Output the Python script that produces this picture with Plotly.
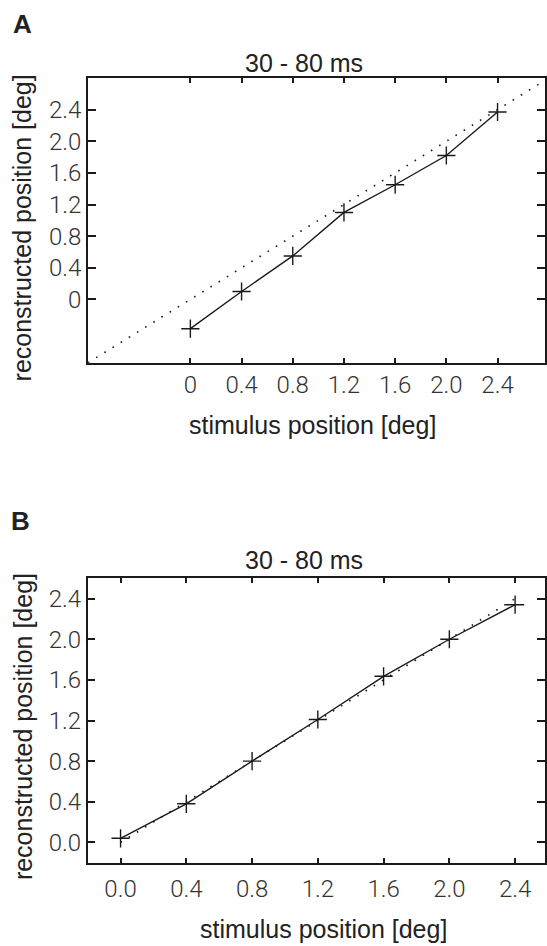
import plotly.graph_objects as go

# Stimulus positions (deg) and reconstructed positions (deg), 30-80 ms window
stim_a = [0.0, 0.4, 0.8, 1.2, 1.6, 2.0, 2.4]
recon_a = [-0.37, 0.10, 0.55, 1.10, 1.45, 1.82, 2.37]

stim_b = [0.0, 0.4, 0.8, 1.2, 1.6, 2.0, 2.4]
recon_b = [0.04, 0.38, 0.80, 1.21, 1.635, 2.00, 2.34]

# identity (veridical) reference lines
diag_a = [-0.8, 2.8]
diag_b = [0.0, 2.4]

tick_vals = [0.0, 0.4, 0.8, 1.2, 1.6, 2.0, 2.4]
tick_text_a = ["0", "0.4", "0.8", "1.2", "1.6", "2.0", "2.4"]
tick_text_b = ["0.0", "0.4", "0.8", "1.2", "1.6", "2.0", "2.4"]

W, H = 547, 946
INK = "#1a1a1a"
TXT = "#222222"
MAIN_FONT = "Liberation Sans, Arial, sans-serif"
TICK_FONT = dict(family="Roboto, Liberation Sans, sans-serif", size=24, color="#333333", weight=300)


def px_x(p):
    return p / W


def px_y(p):
    return 1 - p / H


fig = go.Figure()

for stim, recon, diag, xa, ya in [
    (stim_a, recon_a, diag_a, "x", "y"),
    (stim_b, recon_b, diag_b, "x2", "y2"),
]:
    fig.add_trace(go.Scatter(
        x=diag, y=diag, mode="lines", xaxis=xa, yaxis=ya,
        line=dict(color=INK, width=1.6, dash="1.6px,8px"),
        hoverinfo="skip", showlegend=False,
    ))
    fig.add_trace(go.Scatter(
        x=stim, y=recon, mode="lines+markers", xaxis=xa, yaxis=ya,
        line=dict(color=INK, width=1.4),
        marker=dict(symbol="cross-thin", size=13, color=INK,
                    line=dict(color=INK, width=1.4)),
        showlegend=False,
    ))

axis_common = dict(
    showline=True, linecolor=INK, linewidth=1.5, mirror="ticks",
    ticks="inside", tickcolor=INK, tickwidth=1.5,
    showgrid=False, zeroline=False, tickfont=TICK_FONT,
    tickmode="array", tickvals=tick_vals,
)

# panel A geometry (pixels)
a_left, a_top, a_bottom = 88.3, 78.0, 362.7
# panel B geometry (pixels)
b_left, b_top, b_bottom = 88.0, 578.3, 862.7

fig.update_layout(
    width=W, height=H,
    margin=dict(l=0, r=0, t=0, b=0),
    paper_bgcolor="white", plot_bgcolor="white",
    xaxis=dict(axis_common, domain=[px_x(a_left), 1], anchor="y",
               range=[-0.8, -0.8 + (W - a_left) / 128.46],
               ticktext=tick_text_a, ticklen=5, ticklabelstandoff=0),
    yaxis=dict(axis_common, domain=[px_y(a_bottom), px_y(a_top)], anchor="x",
               range=[-0.8, 2.8], ticktext=tick_text_a, ticklen=8,
               ticklabelstandoff=0),
    xaxis2=dict(axis_common, domain=[px_x(b_left), 1], anchor="y2",
                range=[-0.2, -0.2 + (W - b_left) / 165.0],
                ticktext=tick_text_b, ticklen=5, ticklabelstandoff=4),
    yaxis2=dict(axis_common, domain=[px_y(b_bottom), px_y(b_top)], anchor="x2",
                range=[-0.2, 2.6], ticktext=tick_text_b, ticklen=8,
                ticklabelstandoff=0),
)

ann = []


def label(text, x, y, size=25, bold=False, angle=0):
    ann.append(dict(
        text=f"<b>{text}</b>" if bold else text,
        x=px_x(x), y=px_y(y), xref="paper", yref="paper",
        xanchor="center", yanchor="middle", showarrow=False,
        textangle=angle,
        font=dict(family=MAIN_FONT, size=size, color=TXT),
    ))


label("A", 22.5, 23.5, size=26, bold=True)
label("30 - 80 ms", 305, 63)
label("reconstructed position [deg]", 22.5, 228, angle=-90)
label("stimulus position [deg]", 314, 425)

label("B", 21, 521, size=26, bold=True)
label("30 - 80 ms", 305, 559.5)
label("reconstructed position [deg]", 22.5, 726.7, angle=-90)
label("stimulus position [deg]", 325, 929)

fig.update_layout(annotations=ann)

fig.write_html("out.html")
